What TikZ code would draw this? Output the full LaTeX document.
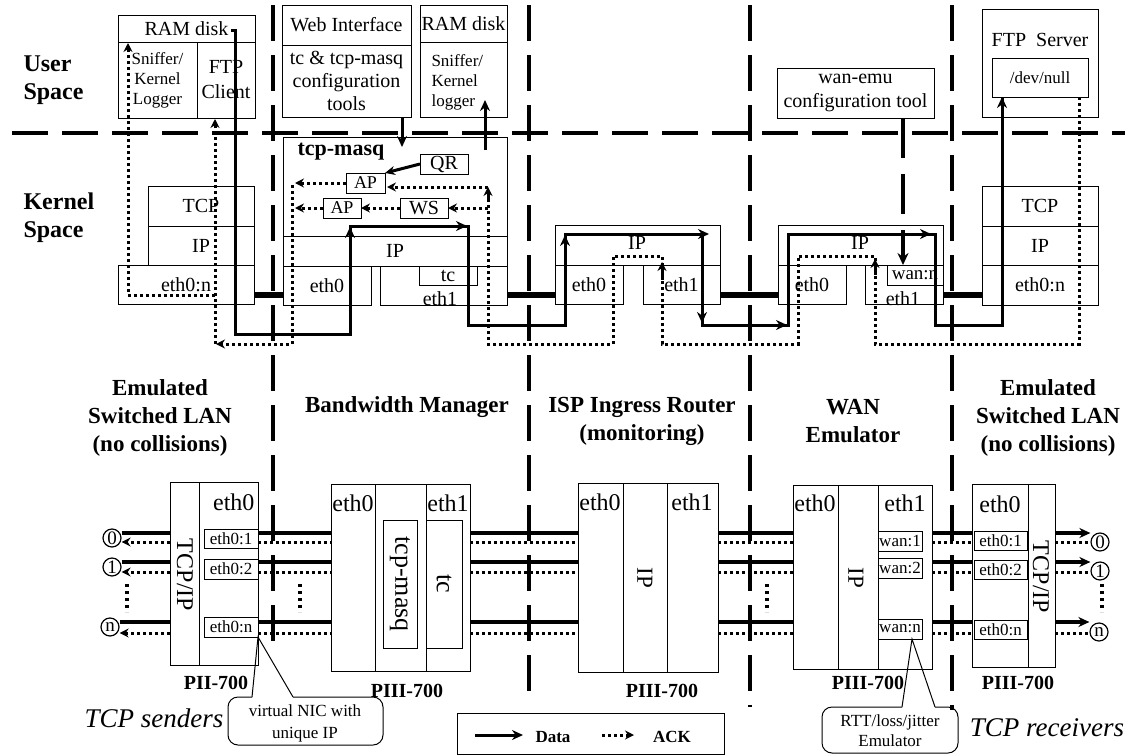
\documentclass[tikz,border=0pt]{standalone}
\usepackage{fontspec}
\setmainfont{Liberation Serif}
\usetikzlibrary{arrows.meta}
\newcommand\fs[2]{\fontsize{#1}{#2}\selectfont}
\newcommand\bx[7][]{\node[box,minimum width={(#5)-(#3)},minimum height={(#6)-(#4)},#1] (#2) at ({((#3)+(#5))/2},{((#4)+(#6))/2}) {#7};}
\begin{document}
\begin{tikzpicture}[x=1pt,y=-1pt,
 box/.style={draw,line width=1pt,inner sep=0pt,outer sep=0pt,font=\fs{20}{23},align=center},
 sec/.style={line width=4pt,dash pattern=on 36pt off 14pt},
 link/.style={line width=6pt},
 data/.style={line width=3pt},
 ack/.style={line width=3pt,dash pattern=on 3pt off 3pt},
 dtip/.style={line width=3pt,-{Stealth[length=11pt,width=10pt]}},
 atip/.style={-{Stealth[length=9pt,width=9pt]}},
 lbl/.style={font=\bfseries\fs{23}{28},align=center},
 sm/.style={font=\fs{17}{20}},
 bl/.style={line width=4pt},
 bd/.style={line width=3pt,dash pattern=on 3pt off 3pt},
 vdots/.style={line width=4pt,dash pattern=on 3pt off 4pt},
 hn/.style={font=\bfseries\fs{20}{22}},
 rot/.style={rotate=-90,font=\fs{24}{26}},
 el/.style={font=\fs{24}{26}},
 nic/.style={circle,draw,line width=1.2pt,minimum size=18pt,inner sep=0pt,font=\fs{19}{20}}
]
\useasboundingbox (0,0) rectangle (1129,755);
\fill[white] (0,0) rectangle (1129,755);

% section separators
\draw[sec] (12,133) -- (1125,133);
\draw[sec] (273,5) -- (273,655);
\draw[sec] (529,5) -- (529,705);
\draw[sec] (750,5) -- (750,707);
\draw[sec] (952,5) -- (952,710);

% space labels
\node[font=\bfseries\fs{24}{28},align=left,anchor=west] (us) at (20,80) {User\\Space};
\node[font=\bfseries\fs{24}{28},align=left,anchor=west] (ks) at (20,218) {Kernel\\Space};

% left host user space
\bx{ramA}{118}{15}{255}{42}{RAM disk}
\bx[font=\fs{17}{20}]{snfA}{118}{42}{197}{118}{Sniffer/\\Kernel\\Logger}
\bx[font=\fs{20}{25}]{ftpc}{197}{42}{255}{118}{FTP\\Client}

% left host kernel
\bx{tcpL}{148}{186}{254}{226}{TCP}
\bx{ipL}{148}{226}{254}{265}{IP}
\bx{ethL}{118}{265}{254}{304}{eth0:n}

% bandwidth manager user space
\bx{web}{282}{5}{411}{45}{Web Interface}
\bx{cfg}{282}{45}{411}{117}{tc \& tcp-masq\\configuration\\tools}
\bx{ramB}{420}{5}{507}{42}{RAM disk}
\bx{snfB}{420}{42}{507}{117}{}
\node[font=\fs{17}{20},align=left,anchor=west] (snfBt) at (428,82) {Sniffer/\\Kernel\\logger};

% bandwidth manager kernel
\bx{tm}{283}{137}{507}{236}{}
\node[font=\bfseries\fs{22}{24},anchor=west] (tmt) at (294,152) {tcp-masq};
\bx{ipB}{283}{236}{507}{266}{IP}
\bx{eth0B}{283}{266}{371}{305}{eth0}
\bx{eth1B}{380}{266}{507}{305}{}
\node[font=\fs{20}{22}] (eth1Bt) at (440,299) {eth1};
\bx[fill=white]{tcB}{419}{266}{477}{285}{tc}
\bx{qr}{420}{154}{468}{174}{QR}
\bx[font=\fs{18}{20}]{ap1}{346}{173}{385}{193}{AP}
\bx[font=\fs{18}{20}]{ap2}{323}{198}{361}{218}{AP}
\bx{ws}{400}{198}{448}{218}{WS}

% ISP kernel
\bx{ispk}{555}{225}{720}{265}{}
\node[font=\fs{20}{22}] (ispip) at (637,243) {IP};
\bx{ispe0}{555}{265}{623}{304}{eth0}
\bx{ispe1}{643}{265}{720}{304}{eth1}

% WAN emulator
\bx[font=\fs{20}{24}]{wancfg}{777}{68}{934}{118}{wan-emu\\configuration tool}
\bx{wank}{778}{225}{943}{265}{}
\node[font=\fs{20}{22}] (wanip) at (860,243) {IP};
\bx{wane0}{778}{265}{846}{304}{eth0}
\bx{wane1}{865}{265}{943}{304}{}
\node[font=\fs{20}{22}] (wane1t) at (903,299) {eth1};
\bx[fill=white,font=\fs{19}{20}]{wann}{887}{265}{943}{285}{wan:n}

% right host
\bx{ftps}{982}{9}{1098}{117}{}
\node[font=\fs{20}{22}] (ftpst) at (1040,40) {FTP\ \ Server};
\bx[font=\fs{17}{20}]{devnull}{992}{58}{1088}{97}{/dev/null}
\bx{tcpR}{982}{186}{1098}{226}{TCP}
\bx{ipR}{982}{226}{1098}{265}{IP}
\bx{ethR}{982}{265}{1098}{305}{eth0:n}

% physical links (kernel level)
\coordinate (ly) at (0,295);
\draw[link] (ethL.east |- ly) -- (eth0B.west |- ly);
\draw[link] (eth1B.east |- ly) -- (ispe0.west |- ly);
\draw[link] (ispe1.east |- ly) -- (wane0.west |- ly);
\draw[link] (wane1.east |- ly) -- (ethR.west |- ly);

% data path
\draw[data] (231,30) -- (235,30) -- (235,334) -- (350,334) -- (350,226) -- (468,226) -- (468,325)
  -- (565,325) -- (565,234) -- (702,234) -- (702,325) -- (788,325) -- (788,234) -- (935,234)
  -- (935,325) -- (1002,325) -- (1002,97);
\draw[dtip] (350,242) -- (350,227);
\draw[dtip] (452,226) -- (467,226);
\draw[dtip] (565,250) -- (565,235);
\draw[dtip] (694,234) -- (709,234);
\draw[dtip] (702,308) -- (702,323);
\draw[dtip] (772,325) -- (787,325);
\draw[dtip] (916,234) -- (931,234);
\draw[dtip] (1002,115) -- (devnull.south -| 1002,97);

% ack path
\draw[ack] (1079,97) -- (1079,344) -- (875,344) -- (875,256) -- (798,256) -- (798,344) -- (662,344)
  -- (662,256) -- (613,256) -- (613,344) -- (488,344) -- (488,190);
\draw[line width=3pt,atip] (875,275) -- (875,259);
\draw[line width=3pt,atip] (662,280) -- (662,262);
\draw[line width=3pt,atip] (488,202) -- (488,187);
\draw[ack,atip] (488,187) -- (387,187);
\draw[ack,atip] (488,208) -- (ws.east);
\draw[ack,atip] (ws.west) -- (ap2.east);
\draw[ack,atip] (ap2.west) -- (295,208);
\draw[ack,atip] (ap1.west) -- (295,183);
\draw[ack,atip] (292,185) -- (292,344) -- (216,344);
\draw[ack,atip] (215,344) -- (215,119);
\draw[ack,atip] (215,295) -- (128,295) -- (128,43);

% control arrows
\draw[line width=3pt,-{Stealth[length=10pt,width=9pt]}] (qr.west) -- (ap1.north east);
\draw[line width=3pt,-{Stealth[length=11pt,width=10pt]}] (cfg.south -| 402,0) -- (402,147);
\draw[line width=3pt,-{Stealth[length=11pt,width=10pt]}] (485,150) -- (485,100);
\draw[line width=4pt,dash pattern=on 40pt off 16pt,-{Stealth[length=12pt,width=11pt]}] (wancfg.south -| 903,0) -- (wann.north -| 903,0);

% section labels
\node[lbl] (lanL) at (160,418) {Emulated\\Switched LAN\\(no collisions)};
\node[lbl] (bwm) at (407,407) {Bandwidth Manager};
\node[lbl] (isp) at (642,421) {ISP Ingress Router\\(monitoring)};
\node[lbl] (wan) at (853,421) {WAN\\Emulator};
\node[lbl] (lanR) at (1048,418) {Emulated\\Switched LAN\\(no collisions)};

% ---------- bottom: physical view ----------
% left host
\bx{lhT}{170}{482}{199}{665}{}
\bx{lhE}{199}{482}{258}{665}{}
\node[rot] (lht) at (185,575) {TCP/IP};
\node[el,anchor=east] (lhe) at (258,502) {eth0};
\bx[sm]{e1L}{204}{529}{258}{548}{eth0:1}
\bx[sm]{e2L}{204}{559}{258}{579}{eth0:2}
\bx[sm]{enL}{204}{617}{258}{637}{eth0:n}
\node[hn] (p1) at (216,683) {PII-700};

% bandwidth manager host
\bx{bmA}{331}{484}{375}{671}{}
\bx{bmB}{375}{484}{426}{671}{}
\bx{bmC}{426}{484}{470}{671}{}
\node[el] (bme0) at (353,503) {eth0};
\node[el] (bme1) at (448,503) {eth1};
\bx{tmB}{383}{520}{417}{648}{}
\node[rot,font=\fs{26}{28}] (tmBt) at (tmB) {tcp-masq};
\bx{tcBB}{426}{520}{462}{648}{}
\node[rot,font=\fs{26}{28}] (tcBBt) at (tcBB) {tc};
\node[hn] (p2) at (407,691) {PIII-700};

% ISP host
\bx{isA}{578}{483}{623}{672}{}
\bx{isB}{623}{483}{667}{672}{}
\bx{isC}{667}{483}{718}{672}{}
\node[el] (ise0) at (600,502) {eth0};
\node[el] (ise1) at (692,502) {eth1};
\node[rot,font=\fs{23}{25}] (isip) at (645,578) {IP};
\node[hn] (p3) at (662,691) {PIII-700};

% WAN host
\bx{waA}{793}{485}{838}{669}{}
\bx{waB}{838}{485}{878}{669}{}
\bx{waC}{878}{485}{932}{669}{}
\node[el] (wae0) at (815,503) {eth0};
\node[el] (wae1) at (905,503) {eth1};
\node[rot,font=\fs{23}{25}] (waip) at (856,578) {IP};
\bx[sm]{w1}{878}{531}{922}{551}{wan:1}
\bx[sm]{w2}{878}{558}{922}{578}{wan:2}
\bx[sm]{wn}{878}{619}{922}{639}{wan:n}
\node[hn] (p4) at (868,683) {PIII-700};

% right host
\bx{rhE}{972}{484}{1028}{667}{}
\bx{rhT}{1028}{484}{1055}{667}{}
\node[el] (rhe) at (1000,504) {eth0};
\node[rot] (rht) at (1041,577) {TCP/IP};
\bx[sm]{e1R}{974}{531}{1027}{550}{eth0:1}
\bx[sm]{e2R}{974}{560}{1027}{579}{eth0:2}
\bx[sm]{enR}{974}{620}{1027}{639}{eth0:n}
\node[hn] (p5) at (1018,683) {PIII-700};

% end hosts (circles)
\node[nic] (l0) at (112,538) {0};
\node[nic] (l1) at (112,567) {1};
\node[nic] (ln) at (110,627) {n};
\node[nic] (r0) at (1100,542) {0};
\node[nic] (r1) at (1100,571) {1};
\node[nic] (rn) at (1099,632) {n};

% bottom links
\foreach \s/\d/\l/\r in {533/542/l0/r0, 562/572/l1/r1, 622/633/ln/rn}{
  \draw[bl] (\l.east |- 0,\s) -- (170,\s);
  \draw[bd,atip] (170,\d) -- (\l.east |- 0,\d);
  \draw[bl] (258,\s) -- (331,\s);
  \draw[bd] (258,\d) -- (331,\d);
  \draw[bl] (470,\s) -- (578,\s);
  \draw[bd] (470,\d) -- (578,\d);
  \draw[bl] (718,\s) -- (793,\s);
  \draw[bd] (718,\d) -- (793,\d);
  \draw[bl] (932,\s) -- (972,\s);
  \draw[bd] (932,\d) -- (972,\d);
  \draw[bl,-{Stealth[length=11pt,width=10pt]}] (1055,\s) -- (\r.west |- 0,\s);
  \draw[bd] (1055,\d) -- (\r.west |- 0,\d);
}
\draw[vdots] (127,584) -- (127,612);
\draw[vdots] (300,584) -- (300,612);
\draw[vdots] (767,584) -- (767,612);
\draw[vdots] (1102,584) -- (1102,612);

% callouts
\draw[line width=1pt,rounded corners=10pt] (252,697) -- (228,697) -- (228,745) -- (383,745) -- (383,697) -- (293,697);
\draw[line width=1pt] (252,697) -- (enL.south east) -- (293,697);
\node[font=\fs{17}{22},align=center] (nict) at (305,723) {virtual NIC with\\unique IP};
\draw[line width=1pt,rounded corners=10pt] (902,707) -- (822,707) -- (822,753) -- (958,753) -- (958,707) -- (935,707);
\draw[line width=1pt] (902,707) -- ([xshift=12pt]wn.south) -- (935,707);
\node[font=\fs{17}{20},align=center] (rttt) at (890,731) {RTT/loss/jitter\\Emulator};

% italic labels
\node[font=\itshape\fs{27}{30}] (snd) at (154,718) {TCP senders};
\node[font=\itshape\fs{27}{30}] (rcv) at (1047,728) {TCP receivers};

% legend
\bx{legend}{457}{713}{724}{754}{}
\draw[line width=3pt,-{Stealth[length=11pt,width=10pt]}] (475,735) -- (523,735);
\node[font=\bfseries\fs{17}{20}] (ldata) at (553,737) {Data};
\draw[ack,atip] (602,735) -- (634,735);
\node[font=\bfseries\fs{17}{20}] (lack) at (672,737) {ACK};
\end{tikzpicture}
\end{document}
